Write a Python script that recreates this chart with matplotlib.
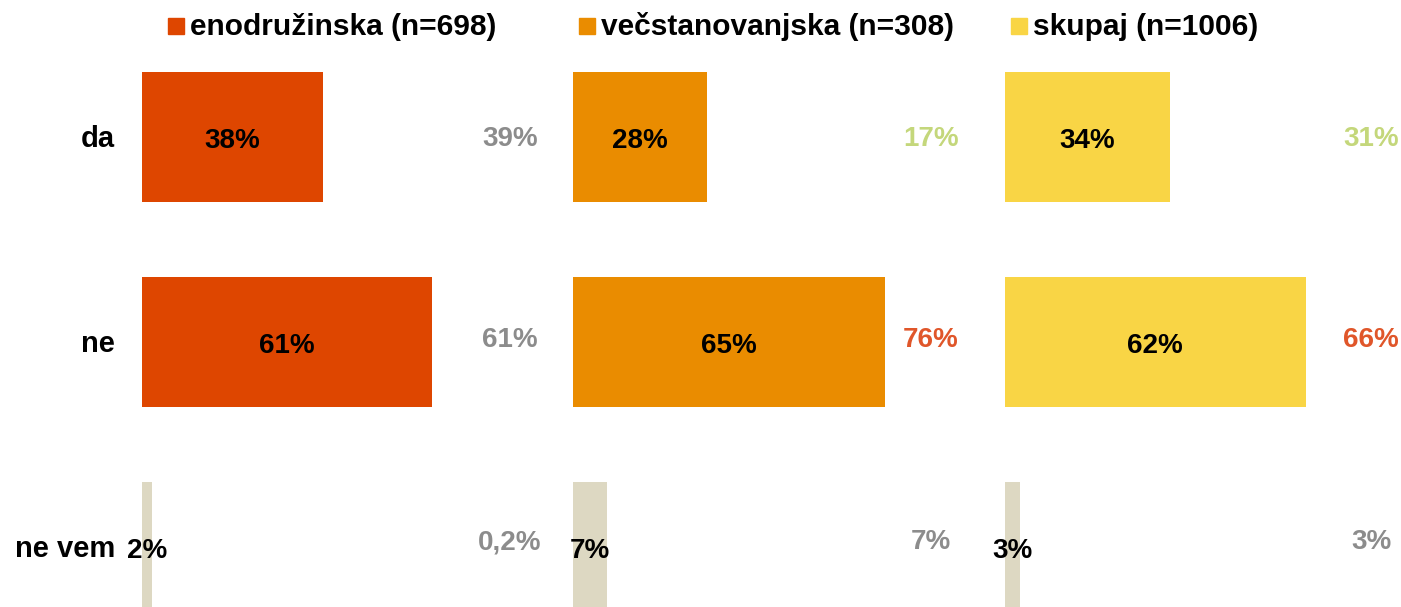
import matplotlib
matplotlib.use("Agg")
import matplotlib.pyplot as plt
from matplotlib.patches import Rectangle

plt.rcParams["font.family"] = ["Liberation Sans", "DejaVu Sans"]
plt.rcParams["font.weight"] = "bold"

categories = ["da", "ne", "ne vem"]
groups = ["enodružinska (n=698)", "večstanovanjska (n=308)", "skupaj (n=1006)"]
values = [
    [38, 61, 2],
    [28, 65, 7],
    [34, 62, 3],
]
value_labels = [
    ["38%", "61%", "2%"],
    ["28%", "65%", "7%"],
    ["34%", "62%", "3%"],
]
# comparison values shown on the right of each panel
compare_labels = [
    ["39%", "61%", "0,2%"],
    ["17%", "76%", "7%"],
    ["31%", "66%", "3%"],
]
compare_colors = [
    ["#8c8c8c", "#8c8c8c", "#8c8c8c"],
    ["#c4d77b", "#e0562a", "#8c8c8c"],
    ["#c4d77b", "#e0562a", "#8c8c8c"],
]
group_colors = ["#de4600", "#ea8c00", "#f9d545"]
nevem_color = "#ddd8c2"

W, H = 1401, 607
fig = plt.figure(figsize=(W / 100, H / 100), dpi=100)
fig.patch.set_facecolor("white")

px_per_pct = [4.75, 4.8, 4.85]
xmax = 80
row_px = 205
panel_x0 = [142, 573, 1005]
compare_x = [510, 931, 1371]
legend_sq = [168, 579, 1011]
compare_dy = [0.044, 0.024, 0.01]   # baseline shift of right-hand labels

for i in range(3):
    ax = fig.add_axes([panel_x0[i] / W, 0, xmax * px_per_pct[i] / W, 1])
    ax.set_xlim(0, xmax)
    ax.set_ylim((H - 137) / row_px, -137 / row_px)
    ax.axis("off")
    cols = [group_colors[i], group_colors[i], nevem_color]
    ax.barh(range(3), values[i], height=0.63, color=cols, left=0)
    for j in range(3):
        ax.text(values[i][j] / 2, j + 0.054, value_labels[i][j], ha="center",
                va="baseline", fontsize=20, color="black", fontweight="bold")
        cx = (compare_x[i] - panel_x0[i]) / px_per_pct[i]
        ax.text(cx, j + compare_dy[j], compare_labels[i][j], ha="center",
                va="baseline", fontsize=20, color=compare_colors[i][j],
                fontweight="bold")

    # legend entry above the panel
    fig.patches.append(Rectangle((legend_sq[i] / W, 1 - 34 / H), 16 / W, 16 / H,
                                 transform=fig.transFigure, color=group_colors[i]))
    fig.text((legend_sq[i] + 22) / W, 1 - 35 / H, groups[i], ha="left",
             va="baseline", fontsize=21.5, fontweight="bold")

for j, cat in enumerate(categories):
    fig.text(115 / W, 1 - (147 + row_px * j) / H, cat, ha="right",
             va="baseline", fontsize=21, fontweight="bold")

fig.savefig("out.png", dpi=100)
